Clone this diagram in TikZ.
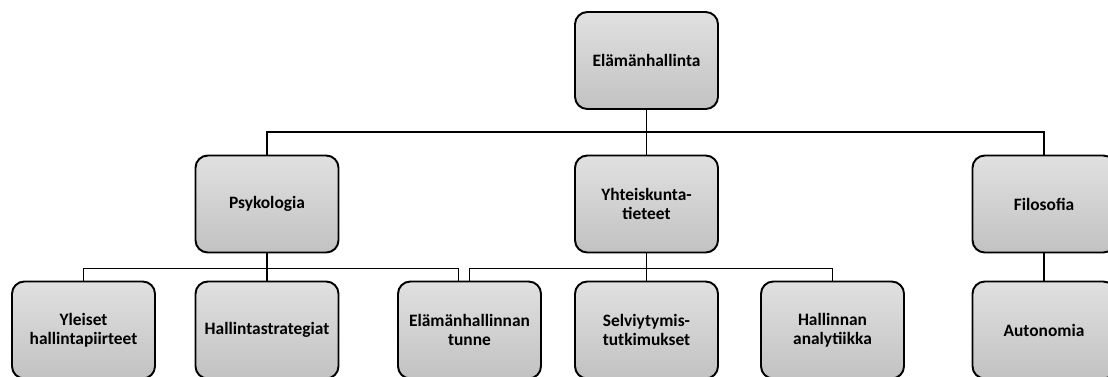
\documentclass[tikz,border=0pt]{standalone}
\usepackage{fontspec}
\setmainfont{Carlito}
\usepackage{tikz}
\usetikzlibrary{positioning}
\usetikzlibrary{calc}
\tikzstyle{box}=[rectangle,rounded corners=7pt,draw=black,line width=1.1pt,top color=gray!24,bottom color=gray!48,minimum width=2.86cm,minimum height=1.94cm,inner sep=0pt,align=center,font=\fontsize{9.9pt}{10.8pt}\selectfont\bfseries]
\tikzstyle{link} = [draw,line width=1.1pt,black]

\begin{document}
\begin{tikzpicture}
    % Fix the frame
    \useasboundingbox (0,0) rectangle (22.16,-7.52);

    % First we draw the boxes
    \node[box] (top) at (12.93,-1.21) {Elämänhallinta};

    \foreach \pos/\name/\label in {{(5.34,-4.08)/psy/Psykologia}, {(12.93,-4.08)/yht/{Yhteiskunta-\\tieteet}}, {(20.88,-4.08)/fil/Filosofia}}
        \node[box] (\name) at \pos {\label};

    \foreach \pos/\name/\label in {{(1.67,-6.6)/yle/{Yleiset\\hallintapiirteet}}, {(5.34,-6.6)/hal/Hallintastrategiat}, {(9.39,-6.6)/tun/{Elämänhallinnan\\tunne}}, {(12.93,-6.6)/sel/{Selviytymis-\\tutkimukset}}, {(16.65,-6.6)/ana/{Hallinnan\\analytiikka}}, {(20.88,-6.6)/aut/Autonomia}}
        \node[box] (\name) at \pos {\label};

    % Connect boxes with lines
    \foreach \source/ \dest in {top/psy, top/yht, top/fil}
        \path[link] (\source.south) -- ++(0,-0.44) -| (\dest.north);
    \foreach \source/ \dest in {psy/yle, psy/hal, yht/tun, yht/sel, yht/ana}
        \path[link] (\source.south) -- ++(0,-0.3) -| (\dest.north);
    \path[link] (psy.south) -- ++(0,-0.3) -| ([xshift=-0.22cm]tun.north);
    \path[link] (fil) -- (aut);
\end{tikzpicture}
\end{document}
